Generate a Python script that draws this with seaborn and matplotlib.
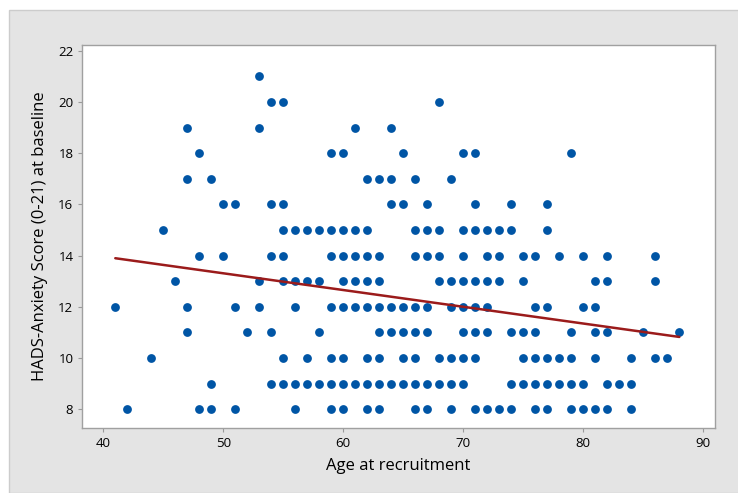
import pandas as pd
import matplotlib.pyplot as plt
import seaborn as sns
from matplotlib.patches import Rectangle

# Ages of the recruits, grouped by their HADS-Anxiety score at baseline
score_levels = [21, 20, 19, 18, 17, 16, 15, 14, 13, 12, 11, 10, 9, 8]
ages_21 = [53]
ages_20 = [54, 55, 68]
ages_19 = [47, 53, 61, 64]
ages_18 = [48, 59, 60, 65, 70, 71, 79]
ages_17 = [47, 49, 62, 63, 64, 66, 69]
ages_16 = [50, 51, 54, 55, 64, 65, 67, 71, 74, 77]
ages_15 = [45, 55, 56, 57, 58, 59, 60, 61, 62, 66, 67, 68, 70, 71, 72, 73, 74, 77]
ages_14 = [48, 50, 54, 55, 59, 60, 61, 62, 63, 66, 67, 68, 70, 72, 73, 75, 76, 78, 80, 82, 86]
ages_13 = [46, 53, 55, 56, 57, 58, 60, 61, 62, 63, 68, 69, 70, 71, 72, 73, 75, 81, 82, 86]
ages_12 = [41, 47, 51, 53, 56, 59, 60, 61, 62, 63, 64, 65, 66, 67, 69, 70, 71, 72, 76, 77, 80, 81]
ages_11 = [47, 52, 54, 58, 63, 64, 65, 66, 67, 70, 71, 72, 74, 75, 76, 79, 81, 82, 85, 88]
ages_10 = [44, 55, 57, 59, 60, 62, 63, 65, 66, 68, 69, 70, 71, 75, 76, 77, 78, 79, 81, 84, 86, 87]
ages_9 = [49, 54, 55, 56, 57, 58, 59, 60, 61, 62, 63, 64, 65, 66, 67, 68, 69, 70,
          74, 75, 76, 77, 78, 79, 80, 82, 83, 84]
ages_8 = [42, 48, 49, 51, 56, 59, 60, 62, 63, 66, 67, 69, 71, 72, 73, 74, 76, 77, 79, 80, 81, 82, 84]

ages_by_score = [ages_21, ages_20, ages_19, ages_18, ages_17, ages_16, ages_15,
                 ages_14, ages_13, ages_12, ages_11, ages_10, ages_9, ages_8]

x_ticks = [40, 50, 60, 70, 80, 90]
y_ticks = [8, 10, 12, 14, 16, 18, 20, 22]

rows = []
for score, ages in zip(score_levels, ages_by_score):
    for a in ages:
        rows.append({'age': a, 'score': score})
df = pd.DataFrame(rows)

sns.set_style('ticks')
plt.rcParams['font.family'] = ['Open Sans', 'DejaVu Sans']

fig = plt.figure(figsize=(7.38, 4.93), dpi=100, facecolor='white')
# Minitab-like grey graph region, kept behind the axes
bg = Rectangle((9 / 738, 0), 1, (493 - 10) / 493, transform=fig.transFigure,
               facecolor='#e4e4e4', edgecolor='#cccccc', linewidth=1, zorder=-10)
fig.patches.append(bg)

ax = fig.add_axes([0.1107, 0.1312, 0.9688 - 0.1107, 0.9087 - 0.1312])
ax.set_zorder(5)
ax.set_facecolor('white')

sns.regplot(data=df, x='age', y='score', ax=ax, ci=None,
            scatter_kws={'s': 40, 'color': '#0055a5', 'alpha': 1, 'linewidths': 0, 'zorder': 3},
            line_kws={'color': '#9b1b1b', 'linewidth': 1.8, 'zorder': 4})

ax.set_xlim(38.2, 90.97)
ax.set_ylim(7.25, 22.23)
ax.set_xticks(x_ticks)
ax.set_yticks(y_ticks)
ax.tick_params(axis='both', length=3, width=0.8, color='#9a9a9a', labelsize=9.5,
               labelcolor='black', pad=3)
for sp in ax.spines.values():
    sp.set_visible(True)
    sp.set_color('#a0a0a0')
    sp.set_linewidth(1)

ax.set_xlabel('Age at recruitment', fontsize=12, color='black', labelpad=6)
ax.set_ylabel('HADS-Anxiety Score (0-21) at baseline', fontsize=12, color='black', labelpad=7)

fig.savefig('out.png', dpi=100)
